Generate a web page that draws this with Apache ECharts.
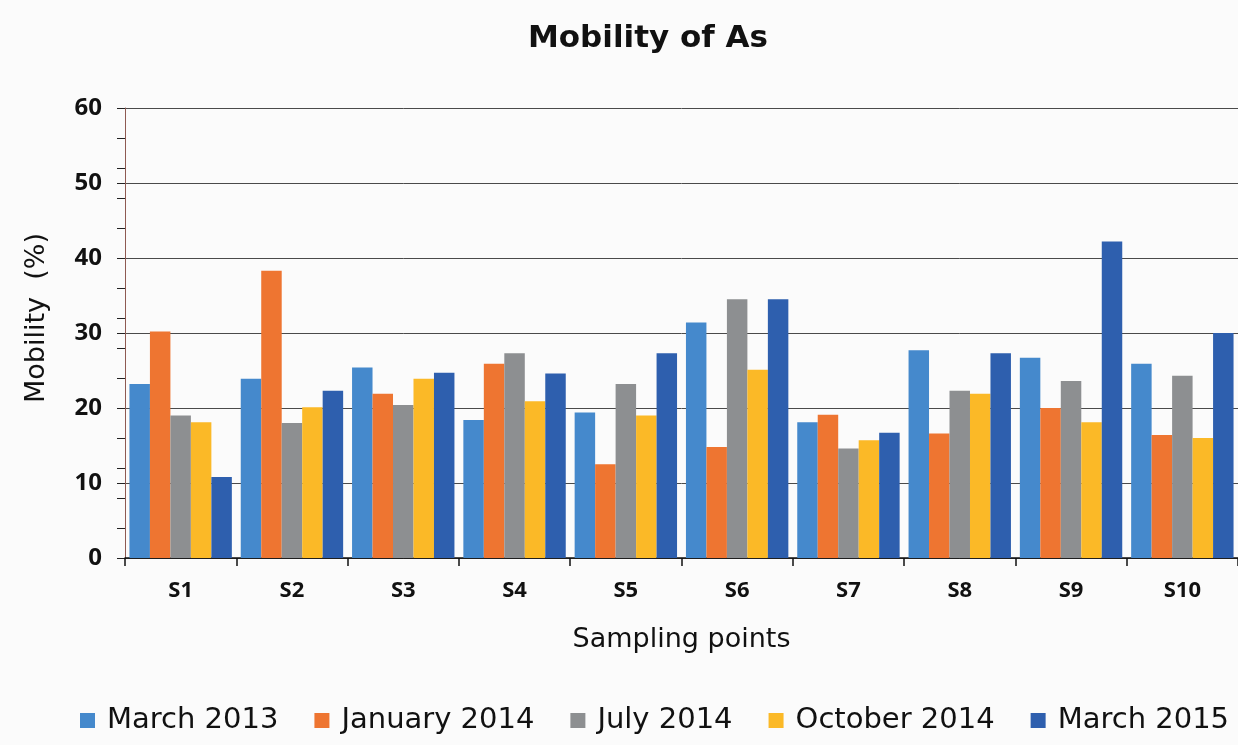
<!DOCTYPE html>
<html>
<head>
<meta charset="utf-8">
<script src="https://cdn.jsdelivr.net/npm/echarts@6/dist/echarts.min.js"></script>
<style>
  html, body { margin: 0; padding: 0; background: #fbfbfb; }
  #main { width: 1238px; height: 745px; }
</style>
</head>
<body>
<div id="main"></div>
<script>
// sampling points and the five campaigns
var points = ["S1", "S2", "S3", "S4", "S5", "S6", "S7", "S8", "S9", "S10"];
var march2013 = [23.2, 23.9, 25.4, 18.4, 19.4, 31.4, 18.1, 27.7, 26.7, 25.9];
var january2014 = [30.2, 38.3, 21.9, 25.9, 12.5, 14.8, 19.1, 16.6, 20.0, 16.4];
var july2014 = [19.0, 18.0, 20.4, 27.3, 23.2, 34.5, 14.6, 22.3, 23.6, 24.3];
var october2014 = [18.1, 20.1, 23.9, 20.9, 19.0, 25.1, 15.7, 21.9, 18.1, 16.0];
var march2015 = [10.8, 22.3, 24.7, 24.6, 27.3, 34.5, 16.7, 27.3, 42.2, 30.0];

var names = ["March 2013", "January 2014", "July 2014", "October 2014", "March 2015"];
var colors = ["#4589cc", "#ee7531", "#8d8f91", "#fbb927", "#2e5fae"];
var values = [march2013, january2014, july2014, october2014, march2015];

var chart = echarts.init(document.getElementById("main"));

var series = names.map(function (n, i) {
  return {
    name: n,
    type: "bar",
    data: values[i],
    barGap: "0%",
    barCategoryGap: "8%",
    itemStyle: { color: colors[i] }
  };
});

chart.setOption({
  backgroundColor: "#fbfbfb",
  animation: false,
  color: colors,
  title: {
    text: "Mobility of As",
    left: 643,
    top: 18,
    textAlign: "center",
    textStyle: { fontFamily: "DejaVu Sans", fontSize: 31, fontWeight: "bold", color: "#111" }
  },
  grid: { left: 125, top: 108, width: 1115, height: 450, containLabel: false },
  legend: {
    data: names,
    left: 80,
    right: 0,
    top: 706,
    padding: 0,
    itemWidth: 15,
    itemHeight: 15,
    itemGap: 36,
    icon: "rect",
    textStyle: { fontFamily: "DejaVu Sans", fontSize: 29, color: "#111", padding: [0, 0, 0, 7] }
  },
  xAxis: {
    type: "category",
    data: points,
    name: "Sampling points",
    nameLocation: "middle",
    nameGap: 68,
    nameTextStyle: { fontFamily: "DejaVu Sans", fontSize: 27, color: "#111" },
    axisLine: { lineStyle: { color: "#111", width: 1.5 } },
    axisTick: { show: true, length: 8, lineStyle: { color: "#111", width: 1.5 } },
    axisLabel: { fontFamily: "Open Sans", fontWeight: "bold", fontSize: 22, color: "#111", margin: 22 }
  },
  yAxis: [
    {
      type: "value",
      min: 0,
      max: 60,
      interval: 10,
      name: "Mobility  (%)",
      nameLocation: "middle",
      nameGap: 75,
      nameTextStyle: { fontFamily: "DejaVu Sans", fontSize: 27, color: "#111", padding: [0, 0, 0, 30] },
      axisLine: { show: true, lineStyle: { color: "#8e5a52", width: 1 } },
      axisTick: { show: true, length: 8, lineStyle: { color: "#222" } },
      axisLabel: { fontFamily: "Open Sans", fontWeight: "bold", fontSize: 24, color: "#111", margin: 23 },
      splitLine: { show: true, lineStyle: { color: "#4a4a4a", width: 1 } }
    },
    {
      type: "value",
      position: "left",
      min: 0,
      max: 60,
      interval: 4,
      alignTicks: false,
      axisLine: { show: false },
      axisTick: { show: true, length: 8, lineStyle: { color: "#222" } },
      axisLabel: { show: false },
      splitLine: { show: false }
    }
  ],
  series: series
});
</script>
</body>
</html>
